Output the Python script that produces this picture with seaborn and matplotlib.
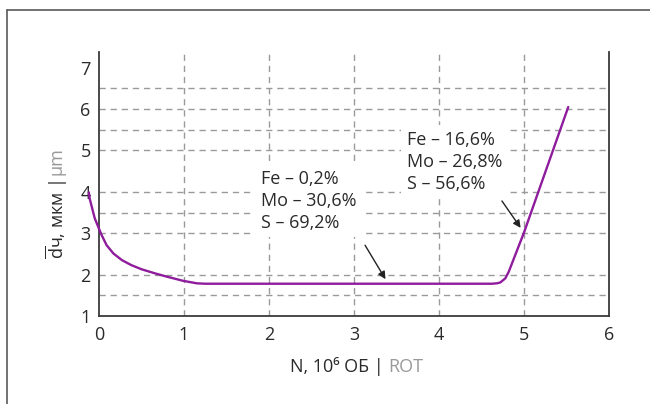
import numpy as np
import pandas as pd
import seaborn as sns
import matplotlib.pyplot as plt
from matplotlib.lines import Line2D

# ---- данные ----
n_rev = [-0.12, -0.11, -0.08, -0.05, -0.01, 0.03, 0.09, 0.17, 0.27, 0.38, 0.5,
         0.66, 0.8, 0.99, 1.15, 1.25, 4.62, 4.68, 4.72, 4.78, 4.82, 5.0, 5.52]
d_mean = [3.99, 3.84, 3.6, 3.36, 3.16, 2.96, 2.71, 2.51, 2.35, 2.23, 2.13,
          2.03, 1.95, 1.85, 1.79, 1.78, 1.78, 1.79, 1.81, 1.91, 2.07, 3.02, 6.05]
x_ticks = [0, 1, 2, 3, 4, 5, 6]
y_ticks = [1, 2, 3, 4, 5, 6, 7]
hgrid = [1.5, 2, 3, 3.5, 4, 5, 5.5, 6, 6.5]
vgrid = [1, 2, 3, 4, 5]
label_1 = "Fe – 0,2%\nMo – 30,6%\nS – 69,2%"
label_2 = "Fe – 16,6%\nMo – 26,8%\nS – 56,6%"

sns.set_theme(style="white")
plt.rcParams['font.family'] = ['Open Sans', 'DejaVu Sans']
plt.rcParams['mathtext.fontset'] = 'custom'
plt.rcParams['mathtext.rm'] = 'Open Sans'
plt.rcParams['mathtext.it'] = 'Open Sans'

df = pd.DataFrame({'N': n_rev, 'd': d_mean})

fig = plt.figure(figsize=(6.5, 4.04), dpi=100)
ax = fig.add_axes([0.1523, 0.2178, 0.7847, 0.6535])

gc = '#9a9a9a'
for y in hgrid:
    ax.axhline(y, color=gc, lw=1, ls=(0, (4.5, 3.5)), zorder=0)
for x in vgrid:
    ax.axvline(x, color=gc, lw=1, ls=(0, (4.5, 3.5)), zorder=0)

sns.lineplot(data=df, x='N', y='d', sort=False, estimator=None, color='#8e1c9c',
             lw=1.7, ax=ax, clip_on=False, zorder=3)

ax.set_xlim(0, 6)
ax.set_ylim(1, 7.38)
ax.set_xticks(x_ticks)
ax.set_yticks(y_ticks)
ax.tick_params(length=0, labelsize=13, labelcolor='#2a2a2a')
ax.tick_params(axis='x', pad=7)
ax.tick_params(axis='y', pad=6)
for s in ['left', 'bottom', 'right']:
    ax.spines[s].set_color('#3a3a3a')
    ax.spines[s].set_linewidth(1.3)
ax.spines['top'].set_visible(False)
ax.set_xlabel('')
ax.set_ylabel('')

box = dict(facecolor='white', edgecolor='none', pad=4)
ax.text(1.9, 4.53, label_1, fontsize=13, color='#2a2a2a', va='top', ha='left',
        linespacing=1.28, bbox=box, zorder=2)
ax.text(3.62, 5.47, label_2, fontsize=13, color='#2a2a2a', va='top', ha='left',
        linespacing=1.28, bbox=box, zorder=2)

arr = dict(arrowstyle='-|>', color='#222222', lw=1, mutation_scale=11, shrinkA=0, shrinkB=0)
ax.annotate('', xy=(3.37, 1.89), xytext=(3.13, 2.71), arrowprops=arr, zorder=4)
ax.annotate('', xy=(4.96, 3.13), xytext=(4.74, 3.78), arrowprops=arr, zorder=4)

# подписи осей (чёрная часть + серая часть)
fig.text(0.598, 0.078, 'N, 10⁶ ОБ | ', fontsize=13, color='#2a2a2a',
         ha='right', va='baseline')
fig.text(0.598, 0.078, 'ROT', fontsize=13, color='#999999', ha='left', va='baseline')

yl = fig.text(0.087, 0.36, r'$\overline{\mathrm{d}}$ч, мкм | ', fontsize=13,
              color='#2a2a2a', rotation=90, ha='center', va='bottom')
fig.canvas.draw()
ax.annotate('µm', xy=(0.5, 1), xycoords=yl, fontsize=13, color='#999999',
            rotation=90, ha='center', va='bottom')

# рамка
fig.add_artist(Line2D([7/650, 7/650], [0, 1 - 10/404], color='#5a5a5a', lw=1.2))
fig.add_artist(Line2D([7/650, 1], [1 - 10/404, 1 - 10/404], color='#5a5a5a', lw=1.2))

fig.savefig('out.png', dpi=100)
